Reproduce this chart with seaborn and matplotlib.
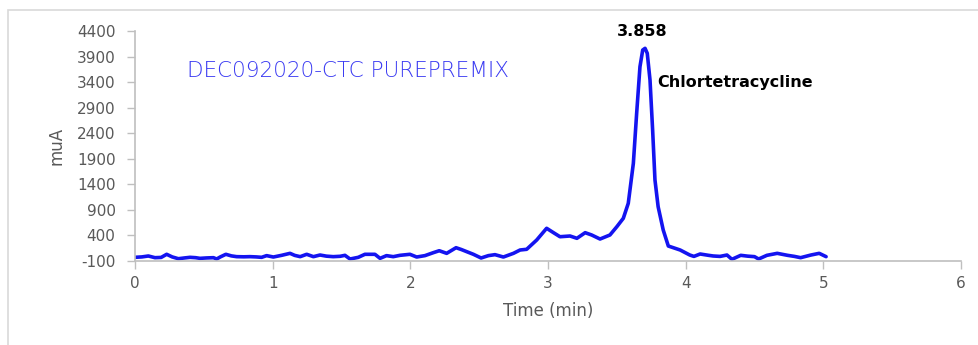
import matplotlib
matplotlib.use("Agg")
import matplotlib.pyplot as plt
import seaborn as sns
import pandas as pd
from matplotlib.patches import Rectangle

time_min = [0.00, 0.05, 0.097, 0.145, 0.19, 0.23, 0.27, 0.315, 0.36, 0.40, 0.44, 0.472, 0.52, 0.57, 0.593,
            0.62, 0.66, 0.70, 0.738, 0.79, 0.835, 0.88, 0.92, 0.956, 1.005, 1.065, 1.126, 1.16, 1.20, 1.247,
            1.296, 1.344, 1.39, 1.44, 1.49, 1.525, 1.562, 1.622, 1.67, 1.743, 1.78, 1.827, 1.876, 1.925,
            1.997, 2.046, 2.106, 2.167, 2.21, 2.264, 2.332, 2.37, 2.41, 2.458, 2.514, 2.567, 2.615, 2.676,
            2.749, 2.797, 2.845, 2.918, 2.99, 3.04, 3.087, 3.16, 3.21, 3.27, 3.317, 3.378, 3.45, 3.50,
            3.547, 3.583, 3.62, 3.644, 3.668, 3.688, 3.705, 3.721, 3.741, 3.76, 3.777, 3.80, 3.837, 3.874,
            3.96, 4.03, 4.06, 4.105, 4.166, 4.20, 4.25, 4.30, 4.336, 4.40, 4.45, 4.50, 4.53, 4.59, 4.665,
            4.74, 4.79, 4.835, 4.91, 4.97, 5.02]
signal_mua = [-28, -20, -2, -35, -30, 31, -20, -55, -40, -28, -35, -48, -40, -35, -61,
              -20, 31, 0, -15, -18, -15, -20, -28, 5, -22, 11, 50, 10, -15, 31,
              -15, 17, -5, -15, -8, 11, -61, -28, 31, 31, -48, 5, -15, 11,
              31, -22, 5, 63, 101, 50, 160, 125, 82, 31, -41, 5, 24, -22,
              50, 115, 129, 311, 540, 454, 375, 389, 344, 454, 409, 330, 409, 571,
              735, 1028, 1811, 2790, 3701, 4028, 4061, 3963, 3441, 2463, 1485, 962, 506, 193,
              115, 17, -10, 37, 11, -2, -10, 17, -67, 11, -5, -15, -61, 11, 50,
              11, -10, -35, 17, 50, -15]

y_ticks = list(range(-100, 4401, 500))
x_ticks = list(range(0, 7))
sample_label = "DEC092020-CTC PUREPREMIX"
peak_rt_label = "3.858"
peak_name = "Chlortetracycline"

df = pd.DataFrame({"Time (min)": time_min, "muA": signal_mua})

sns.set_style("white")
plt.rcParams['font.family'] = ['DejaVu Sans']
plt.rcParams['axes.unicode_minus'] = False

fig = plt.figure(figsize=(9.79, 3.45), dpi=100)
# outer frame
fig.patches.append(Rectangle((8 / 979, -0.05), 1.0, (345 - 10) / 345 + 0.05, transform=fig.transFigure,
                             fill=False, edgecolor="#d9d9d9", linewidth=1.2))
ax = fig.add_axes([135 / 979, (345 - 261) / 345, (961 - 135) / 979, (261 - 31) / 345])
sns.lineplot(data=df, x="Time (min)", y="muA", ax=ax, color="#1414f0", linewidth=2.6, sort=False)

ax.set_xlim(0, 6)
ax.set_ylim(-100, 4400)
ax.set_xticks(x_ticks)
ax.set_yticks(y_ticks)
gray = "#595959"
ax.tick_params(axis="both", colors="#bfbfbf", labelcolor=gray, labelsize=11, length=6, width=1,
               direction="out", left=True, bottom=True)
ax.tick_params(axis="y", pad=8)
ax.tick_params(axis="x", pad=5)
for side in ["top", "right"]:
    ax.spines[side].set_visible(False)
for side in ["left", "bottom"]:
    ax.spines[side].set_color("#bfbfbf")
    ax.spines[side].set_linewidth(1.2)
ax.set_xlabel("Time (min)", fontsize=12, color=gray, labelpad=8)
ax.set_ylabel("muA", fontsize=12, color=gray, labelpad=8)

ax.text(0.375, 3617, sample_label, fontsize=15.5, color="#3a3af2", fontweight="light", va="center", ha="left")
ax.text(3.683, 4400, peak_rt_label, fontsize=11.5, fontweight="bold", color="black", ha="center", va="center")
ax.text(3.79, 3402, peak_name, fontsize=11.5, fontweight="bold", color="black", ha="left", va="center")

fig.savefig("out.png", dpi=100)
